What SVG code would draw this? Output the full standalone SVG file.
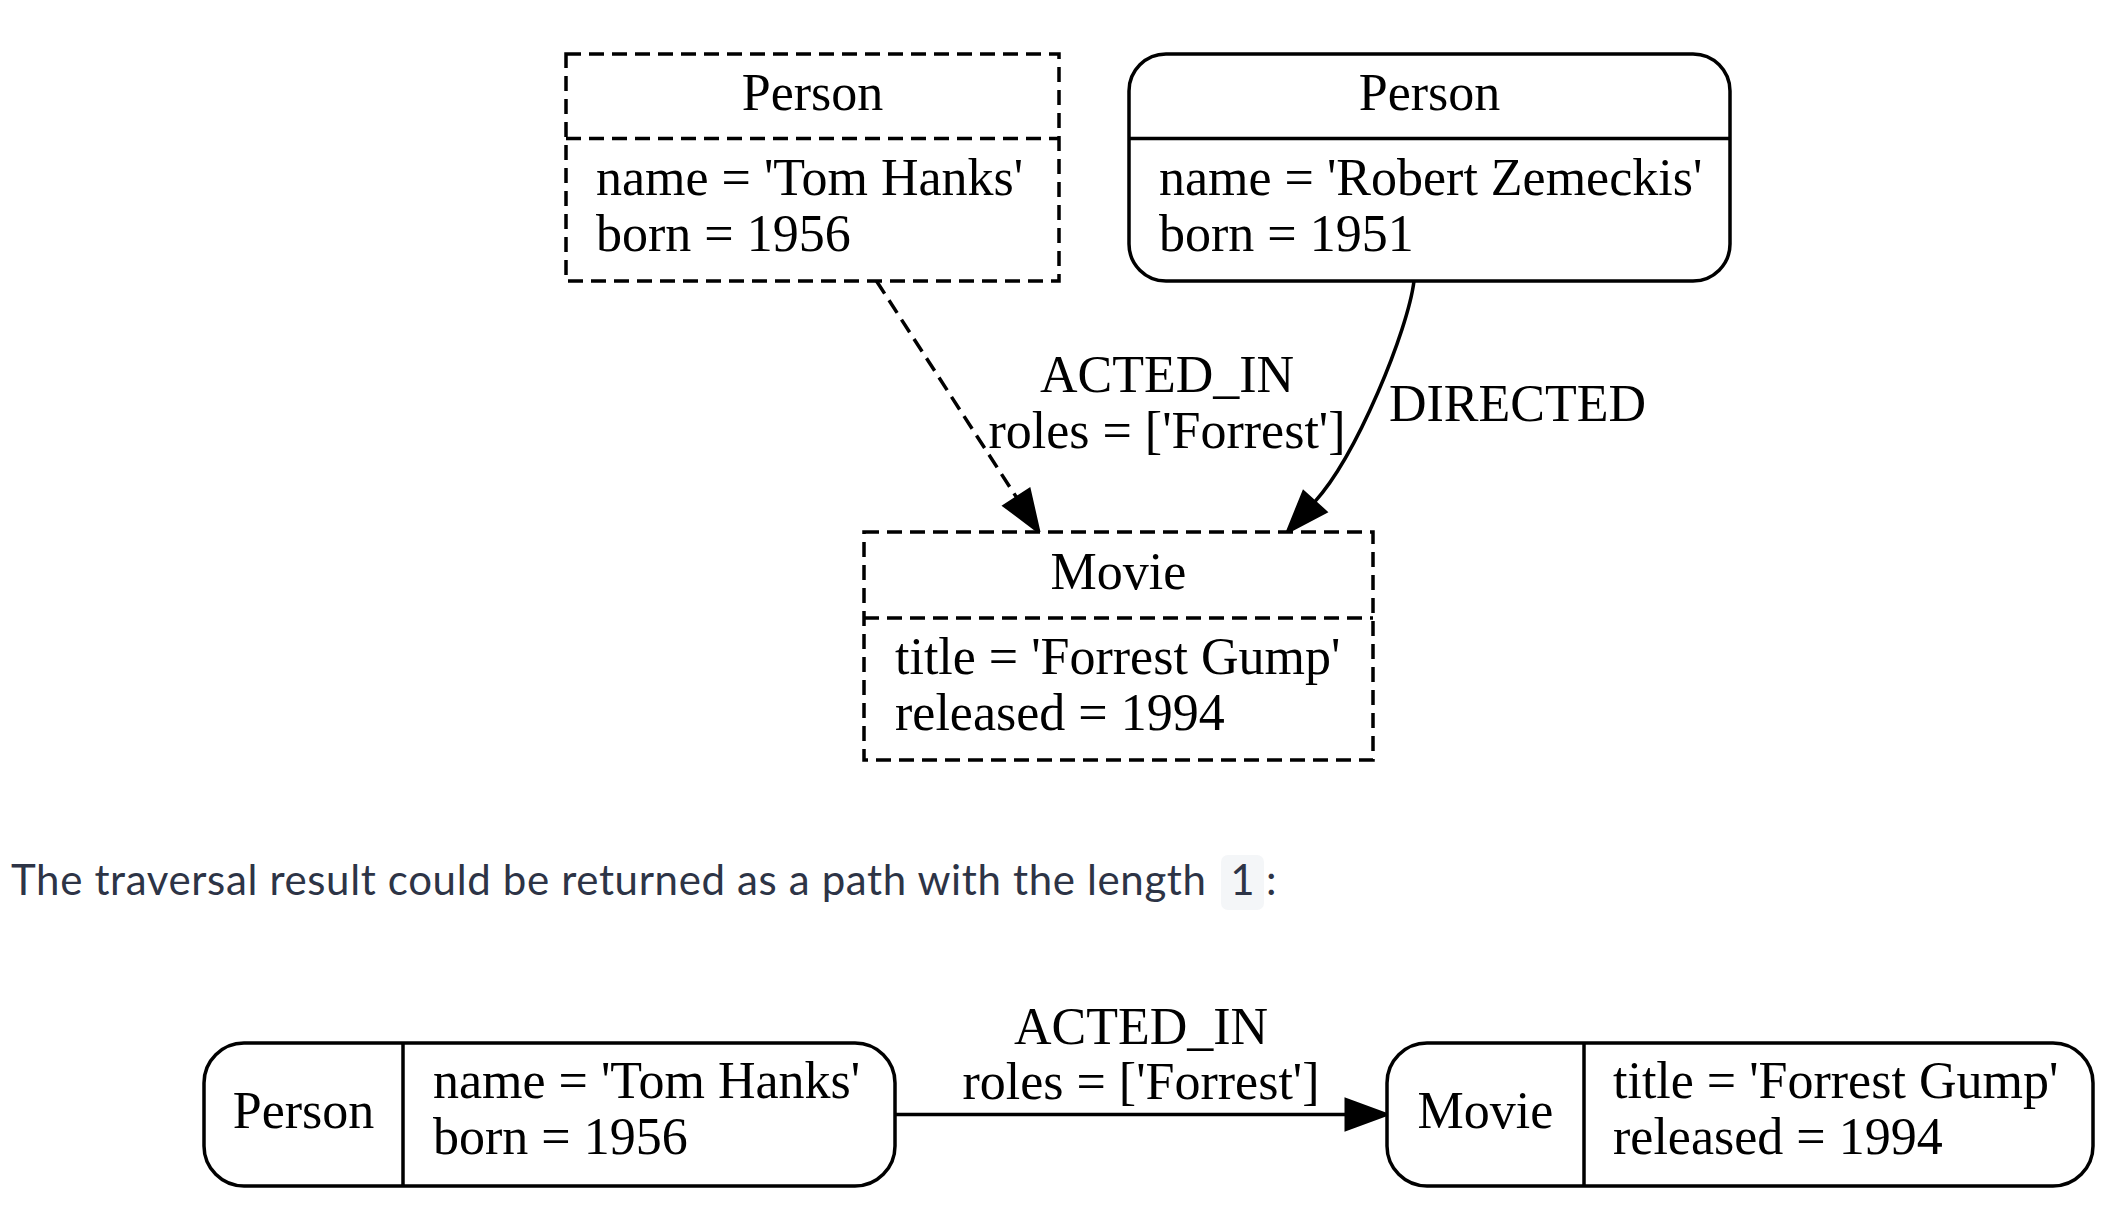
<svg xmlns="http://www.w3.org/2000/svg" width="2108" height="1218" viewBox="0 0 2108 1218">
<defs>
<style>
.box{fill:#fff;stroke:#000;stroke-width:3.5}
.dash{stroke-dasharray:15,8}
.ln{fill:none;stroke:#000;stroke-width:3.5}
.t{font-family:"Liberation Serif","Times New Roman",serif;font-size:52px;fill:#000}
.c{text-anchor:middle}
.p{font-family:Lato,"Noto Sans",sans-serif;font-size:42px;fill:#2d3446}
</style>
<marker id="arr" markerUnits="userSpaceOnUse" viewBox="-3 -18 48 36" refX="0" refY="0" markerWidth="48" markerHeight="36" orient="auto" overflow="visible">
<path d="M0,-15 L41,0 L0,15 Z" fill="#000" stroke="#000" stroke-width="3"/>
</marker>
</defs>
<rect width="2108" height="1218" fill="#fff"/>

<g id="connectors">
<path class="ln dash" d="M876.5,281 L1016.7,497.6" marker-end="url(#arr)"/>
<path class="ln" d="M1414,281 C1408,330 1357,455 1314.7,501.8" marker-end="url(#arr)"/>
<text class="t c" x="1167" y="392">ACTED_IN</text>
<text class="t c" x="1167" y="448">roles = ['Forrest']</text>
<text class="t" x="1389" y="421">DIRECTED</text>
<path class="ln" d="M895,1114.5 L1346,1114.5" marker-end="url(#arr)"/>
<text class="t c" x="1141" y="1044">ACTED_IN</text>
<text class="t c" x="1141" y="1099">roles = ['Forrest']</text>
</g>

<g id="person-tom">
<rect class="box dash" x="566" y="54" width="493" height="227"/>
<line class="ln dash" x1="566" y1="138.5" x2="1059" y2="138.5"/>
<text class="t c" x="812.5" y="110">Person</text>
<text class="t" x="596" y="195">name = 'Tom Hanks'</text>
<text class="t" x="596" y="251">born = 1956</text>
</g>

<g id="person-robert">
<rect class="box" x="1129" y="54" width="601" height="227" rx="37" ry="37"/>
<line class="ln" x1="1129" y1="138.5" x2="1730" y2="138.5"/>
<text class="t c" x="1429.5" y="110">Person</text>
<text class="t" x="1159" y="195">name = 'Robert Zemeckis'</text>
<text class="t" x="1159" y="251">born = 1951</text>
</g>

<g id="movie-forrest">
<rect class="box dash" x="864" y="532" width="509" height="228"/>
<line class="ln dash" x1="864" y1="618" x2="1373" y2="618"/>
<text class="t c" x="1118.5" y="589">Movie</text>
<text class="t" x="895" y="674">title = 'Forrest Gump'</text>
<text class="t" x="895" y="730">released = 1994</text>
</g>

<g id="caption">
<text class="p" x="11" y="895" textLength="1195">The traversal result could be returned as a path with the length</text>
<rect x="1221" y="855" width="43" height="55" rx="7" ry="7" fill="#f4f6f8"/>
<text class="p c" x="1242.5" y="895">1</text>
<text class="p" x="1266" y="895">:</text>
</g>

<g id="path-person">
<rect class="box" x="204" y="1043" width="691" height="143" rx="40" ry="40"/>
<line class="ln" x1="403" y1="1043" x2="403" y2="1186"/>
<text class="t c" x="303.5" y="1128">Person</text>
<text class="t" x="433" y="1098">name = 'Tom Hanks'</text>
<text class="t" x="433" y="1154">born = 1956</text>
</g>

<g id="path-movie">
<rect class="box" x="1387" y="1043" width="706" height="143" rx="40" ry="40"/>
<line class="ln" x1="1584" y1="1043" x2="1584" y2="1186"/>
<text class="t c" x="1485.5" y="1128">Movie</text>
<text class="t" x="1613" y="1098">title = 'Forrest Gump'</text>
<text class="t" x="1613" y="1154">released = 1994</text>
</g>
</svg>
